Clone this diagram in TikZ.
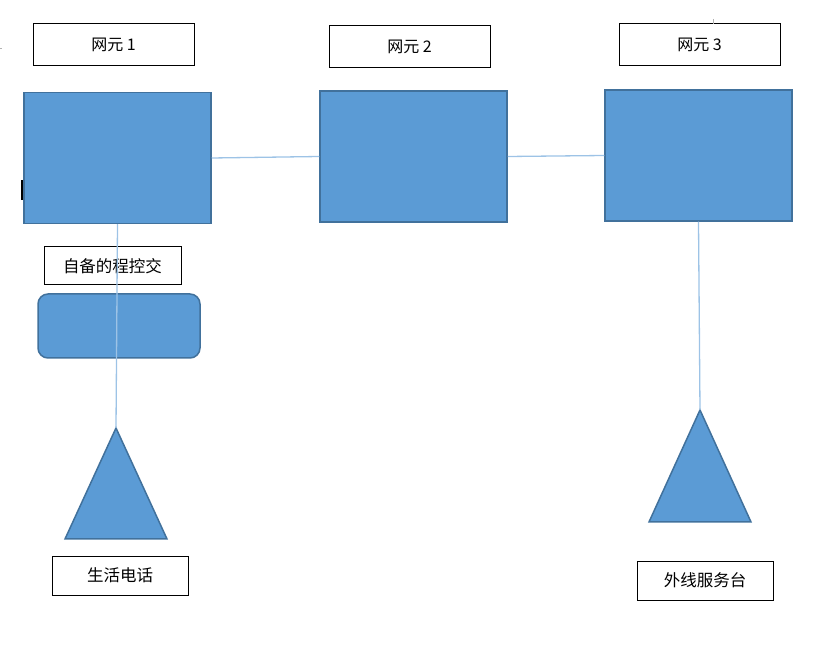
\documentclass[tikz,border=0pt]{standalone}
\usepackage{fontspec}
\newfontfamily\cjk{Noto Sans CJK SC}
\definecolor{boxfill}{HTML}{5B9BD5}
\definecolor{boxline}{HTML}{41719C}
\definecolor{conn}{HTML}{9DC3E6}
\tikzset{
  lbl/.style={draw=black, line width=1pt, fill=white, inner sep=0pt, font=\cjk\fontsize{16}{18}\selectfont},
  lblb/.style={draw=black, line width=1pt, inner sep=0pt, font=\cjk\fontsize{16.5}{18}\selectfont},
  blk/.style={draw=boxline, fill=boxfill, line width=1.5pt, inner sep=0pt, minimum width=187pt, minimum height=131pt},
  conline/.style={draw=conn, line width=1.3pt},
  tri/.style={draw=boxline, fill=boxfill, line width=1.5pt, line join=miter}
}
\begin{document}
\begin{tikzpicture}[x=1pt,y=-1pt]
\useasboundingbox (0,0) rectangle (831,660);
% label boxes
\node[lbl, minimum width=161pt, minimum height=42pt] (l1) at (113.5,45) {网元 1};
\node[lbl, minimum width=161pt, minimum height=42pt] (l2) at (409.5,47) {网元 2};
\node[lbl, minimum width=161pt, minimum height=42pt] (l3) at (699.5,45) {网元 3};
% network element boxes
\node[blk] (r1) at (117.5,158) {};
\node[blk] (r2) at (413.5,156.5) {};
\node[blk] (r3) at (698.5,155.5) {};
% PBX
\node[lblb, minimum width=137pt, minimum height=38pt] (pbxl) at (112.5,266) {自备的程控交};
\node[draw=boxline, fill=boxfill, line width=1.5pt, rounded corners=10pt, minimum width=162pt, minimum height=64pt, inner sep=0pt] (pbx) at (119,326) {};
% triangles
\coordinate (t1) at (116,428);
\filldraw[tri] (t1) -- (167,539) -- (65,539) -- cycle;
\coordinate (t3) at (700,410);
\filldraw[tri] (t3) -- (751,522) -- (649,522) -- cycle;
% bottom labels
\node[lblb, minimum width=136pt, minimum height=39pt] (tel) at (120,575.5) {生活电话};
\node[lblb, minimum width=136pt, minimum height=39pt] (svc) at (705,580.5) {外线服务台};
% connectors
\draw[conline] (r1.east) -- (r2.west);
\draw[conline] (r2.east) -- (r3.west);
\draw[conline] (r1.south) -- (t1);
\draw[conline] (r3.south) -- (t3);
% small stray marks
\draw[black, line width=2pt] (22,180) -- (22,200);
\draw[gray!60, line width=0.8pt] (713,19) -- (713,24);
\draw[gray!60, line width=0.8pt] (0,48) -- (2,48);
\end{tikzpicture}
\end{document}
